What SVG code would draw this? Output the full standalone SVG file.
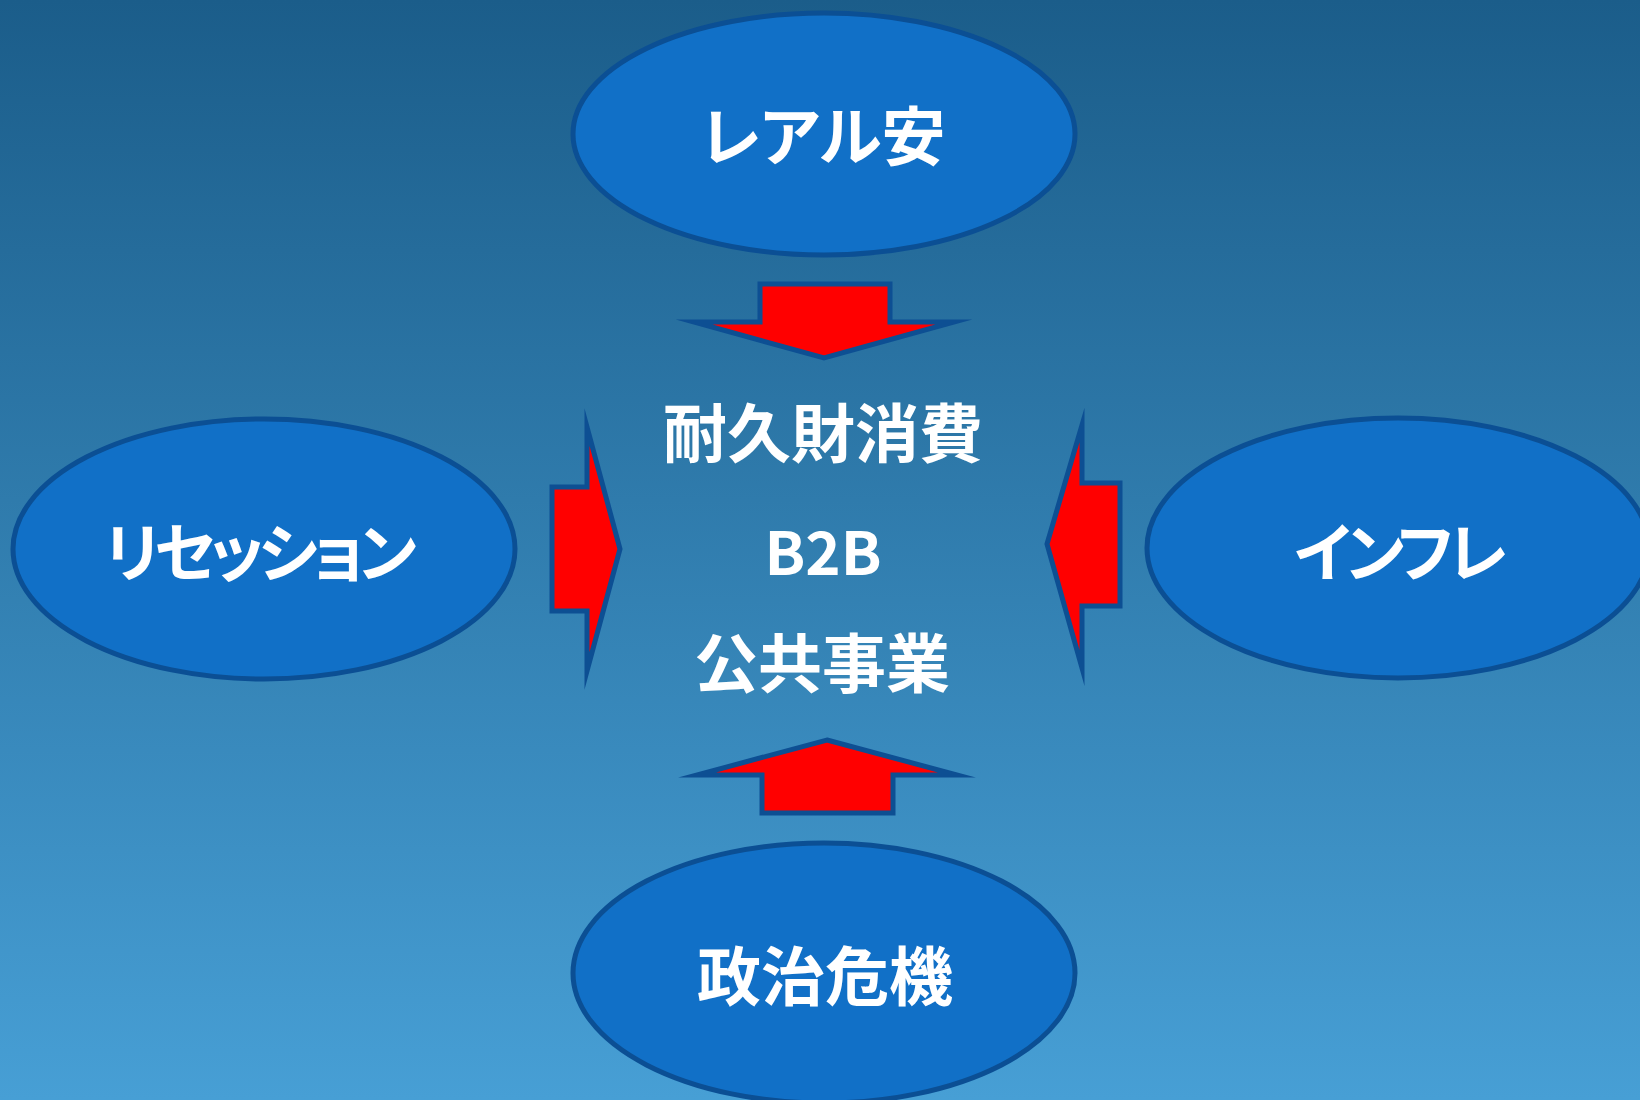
<svg xmlns="http://www.w3.org/2000/svg" width="1640" height="1100" viewBox="0 0 1640 1100">
  <defs>
    <linearGradient id="bg" x1="0" y1="0" x2="0" y2="1">
      <stop offset="0" stop-color="#1b5d8a"/>
      <stop offset="1" stop-color="#479fd5"/>
    </linearGradient>
    <style>
      .node ellipse { fill: #1170c7; stroke: #0b4f94; stroke-width: 5; }
      .lbl { fill: #ffffff; font-family: "Noto Sans CJK JP", "Noto Sans", sans-serif; font-weight: bold; font-size: 64px; text-anchor: middle; }
      .kana { font-feature-settings: "palt"; }
      .tight { letter-spacing: -5.5px; }
      .arrow { fill: #ff0000; stroke: #0d4f93; stroke-width: 5; stroke-linejoin: miter; stroke-miterlimit: 20; }
    </style>
  </defs>
  <rect x="0" y="0" width="1640" height="1100" fill="url(#bg)"/>

  <g id="connectors">
    <polygon class="arrow" points="760,284 890,284 890,322 954,322 824,358 694,322 760,322"/>
    <polygon class="arrow" points="827,740 957,775 893,775 893,813 762,813 762,775 697,775"/>
    <polygon class="arrow" points="552,487 587,487 587,427 620,549 587,671 587,611 552,611"/>
    <polygon class="arrow" points="1047,544 1082,425 1082,483 1120,483 1120,606 1082,606 1082,668"/>
  </g>

  <g id="node-top" class="node">
    <ellipse cx="824" cy="134" rx="251" ry="121"/>
    <text class="lbl kana" x="823" y="160">レアル安</text>
  </g>
  <g id="node-left" class="node">
    <ellipse cx="264" cy="549" rx="251" ry="130"/>
    <text class="lbl kana tight" x="258" y="576">リセッション</text>
  </g>
  <g id="node-right" class="node">
    <ellipse cx="1398" cy="548" rx="251" ry="130"/>
    <text class="lbl kana tight" x="1398" y="576">インフレ</text>
  </g>
  <g id="node-bottom" class="node">
    <ellipse cx="824" cy="973" rx="251" ry="130"/>
    <text class="lbl" x="825" y="1000">政治危機</text>
  </g>
  <g id="node-center">
    <text class="lbl" x="823" y="457">耐久財消費</text>
    <text class="lbl" x="823" y="575" style="font-size:60px">B2B</text>
    <text class="lbl" x="822" y="687">公共事業</text>
  </g>
</svg>
